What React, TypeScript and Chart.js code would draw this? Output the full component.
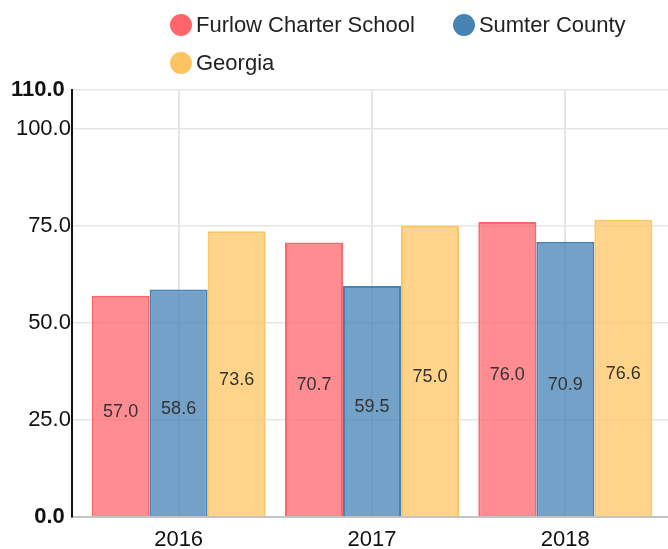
import React, { useEffect, useRef } from 'react';
import { Chart, registerables, CategoryScale } from 'chart.js';

const categories = ['2016', '2017', '2018'];
const seriesNames = ['Furlow Charter School', 'Sumter County', 'Georgia'];
const furlowValues = [57.0, 70.7, 76.0];
const sumterValues = [58.6, 59.5, 70.9];
const georgiaValues = [73.6, 75.0, 76.6];
const yTickValues = [0, 25, 50, 75, 100, 110];

const FONT = "'Liberation Sans', Arial, Helvetica, sans-serif";
const solid = ['rgb(255,102,107)', 'rgb(70,130,180)', 'rgb(255,196,98)'];
const fills = ['rgba(255,102,107,0.75)', 'rgba(70,130,180,0.75)', 'rgba(255,196,98,0.75)'];

const yMin = yTickValues[0];
const yMax = yTickValues[yTickValues.length - 1];
const isBound = (v: number) => v === yMin || v === yMax;

class PaddedCategoryScale extends (CategoryScale as any) {
  static id = 'paddedCategory';
  static defaults = (CategoryScale as any).defaults;
  configure() {
    super.configure();
    const o: any = this.options || {};
    const pl = o.innerPadLeft || 0;
    const pr = o.innerPadRight || 0;
    this._startPixel += pl;
    this._endPixel -= pr;
    this._length = this._endPixel - this._startPixel;
  }
}

Chart.register(...registerables, PaddedCategoryScale as any);

const valueLabels = {
  id: 'valueLabels',
  afterDatasetsDraw(chart: any) {
    const ctx = chart.ctx;
    ctx.save();
    ctx.font = `18px ${FONT}`;
    ctx.fillStyle = '#333';
    ctx.textAlign = 'center';
    ctx.textBaseline = 'middle';
    chart.data.datasets.forEach((ds: any, i: number) => {
      const meta = chart.getDatasetMeta(i);
      meta.data.forEach((el: any, j: number) => {
        const v = ds.data[j] as number;
        ctx.fillText(v.toFixed(1), el.x, (el.y + el.base) / 2 + 6);
      });
    });
    ctx.restore();
  },
};

export default function App() {
  const ref = useRef<HTMLCanvasElement>(null);
  useEffect(() => {
    const seriesData = [furlowValues, sumterValues, georgiaValues];
    const chart = new Chart(ref.current!, {
      type: 'bar',
      data: {
        labels: categories,
        datasets: seriesNames.map((name, i) => ({
          label: name,
          data: seriesData[i],
          backgroundColor: fills[i],
          borderColor: solid[i],
          borderWidth: 2,
          categoryPercentage: 0.9,
          barPercentage: 1.0,
        })),
      },
      options: {
        animation: false,
        responsive: false,
        devicePixelRatio: 1,
        layout: { padding: { top: 90, left: 10, right: 0, bottom: 0 } },
        plugins: {
          legend: { display: false },
          tooltip: { enabled: false },
        },
        font: { family: FONT },
        scales: {
          x: {
            type: 'paddedCategory' as any,
            innerPadLeft: 10,
            innerPadRight: 6,
            offset: true,
            afterFit: (scale: any) => {
              scale.height = 32;
            },
            grid: { offset: false, color: '#e6e6e6', lineWidth: 2, drawTicks: false, tickLength: 0 },
            border: { color: '#c4c4c4', width: 2 },
            ticks: { color: '#111', padding: 12, font: { family: FONT, size: 22, lineHeight: 1 } },
          } as any,
          y: {
            min: yMin,
            max: yMax,
            afterBuildTicks: (scale: any) => {
              scale.ticks = yTickValues.map((v) => ({ value: v }));
            },
            grid: { color: '#e6e6e6', lineWidth: 1.5, drawTicks: false, tickLength: 0 },
            border: { color: '#111', width: 2 },
            ticks: {
              color: '#111',
              padding: 1,
              callback: (v: any) => Number(v).toFixed(1) + (isBound(Number(v)) ? ' ' : ''),
              font: (ctx: any) => {
                const bound = ctx && ctx.tick ? isBound(ctx.tick.value) : false;
                return { family: FONT, size: 22, weight: bound ? 'bold' : 'normal' };
              },
            },
          },
        },
      },
      plugins: [valueLabels],
    });
    return () => chart.destroy();
  }, []);

  return (
    <div style={{ position: 'absolute', left: 0, top: 0, width: 668, height: 549, background: '#fff', overflow: 'hidden' }}>
      <canvas ref={ref} width={668} height={549} style={{ position: 'absolute', left: 0, top: 0, width: 668, height: 549 }} />
      <div
        style={{
          position: 'absolute',
          left: 170,
          top: 6,
          width: 498,
          display: 'flex',
          flexWrap: 'wrap',
          fontFamily: FONT,
          fontSize: 22,
          color: '#222',
        }}
      >
        {seriesNames.map((n, i) => (
          <div key={n} style={{ display: 'flex', alignItems: 'center', height: 38, marginRight: 38 }}>
            <span style={{ display: 'inline-block', width: 22, height: 22, borderRadius: '50%', background: solid[i], marginRight: 4 }} />
            <span>{n}</span>
          </div>
        ))}
      </div>
    </div>
  );
}
